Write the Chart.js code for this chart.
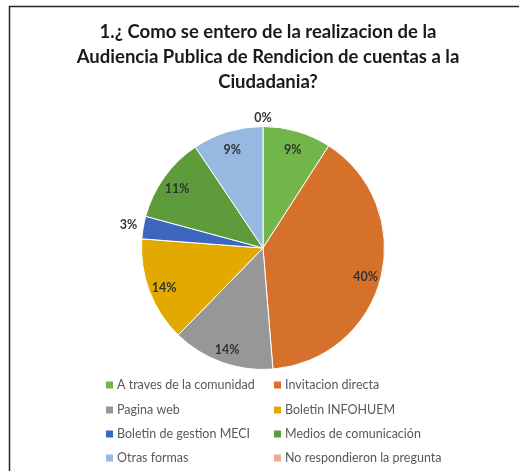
<!DOCTYPE html>
<html>
<head>
<meta charset="utf-8">
<script src="https://cdn.jsdelivr.net/npm/chart.js@4/dist/chart.umd.min.js"></script>
<style>
  html, body { margin: 0; padding: 0; background: #fff; }
  #wrap { width: 519px; height: 471px; position: relative; }
</style>
</head>
<body>
<div id="wrap"><canvas id="c" width="519" height="471"></canvas></div>
<script>
const titleLines = [
  "1.¿ Como se entero de la realizacion de la",
  "Audiencia Publica de Rendicion de cuentas a la",
  "Ciudadania?"
];
const categories = [
  "A traves de la comunidad",
  "Invitacion directa",
  "Pagina web",
  "Boletin INFOHUEM",
  "Boletin de gestion MECI",
  "Medios de comunicación",
  "Otras formas",
  "No respondieron la pregunta"
];
const values = [9.1, 39.6, 13.6, 13.9, 3.0, 11.4, 9.4, 0];
const colors = ["#72B548", "#D6712B", "#979797", "#E2AA00", "#3C67BE", "#5D9B3B", "#97B9E0", "#F0A88E"];

const FONT = "Lato, 'Open Sans', sans-serif";

const decorPlugin = {
  id: 'decor',
  beforeDraw(chart) {
    const ctx = chart.ctx;
    ctx.save();
    ctx.fillStyle = '#fff';
    ctx.fillRect(0, 0, chart.width, chart.height);
    ctx.strokeStyle = '#262626';
    ctx.lineWidth = 1.5;
    ctx.beginPath();
    ctx.moveTo(9.5, chart.height);
    ctx.lineTo(9.5, 6.5);
    ctx.lineTo(chart.width, 6.5);
    ctx.stroke();
    ctx.fillStyle = '#1a1a1a';
    ctx.font = "bold 18.5px " + FONT;
    ctx.textAlign = 'center';
    ctx.textBaseline = 'middle';
    const tys = [32, 57, 82];
    titleLines.forEach((t, i) => ctx.fillText(t, 268, tys[i]));
    ctx.restore();
  },
  afterDraw(chart) {
    const ctx = chart.ctx;
    ctx.save();
    const meta = chart.getDatasetMeta(0);
    const ds = chart.data.datasets[0].data;
    const total = ds.reduce((a, b) => a + b, 0);
    ctx.font = "bold 12.5px " + FONT;
    ctx.textAlign = 'center';
    ctx.textBaseline = 'middle';
    ctx.fillStyle = '#333';
    meta.data.forEach((arc, i) => {
      const p = arc.getProps(['x', 'y', 'startAngle', 'endAngle', 'outerRadius'], true);
      const mid = (p.startAngle + p.endAngle) / 2;
      const pct = ds[i] / total * 100;
      let r;
      if (pct < 1) r = p.outerRadius + 9;
      else if (pct < 5) r = p.outerRadius + 15;
      else r = p.outerRadius * 0.87;
      const x = p.x + Math.cos(mid) * r;
      const y = p.y + Math.sin(mid) * r + (pct >= 5 ? 3 : 0);
      ctx.fillText(Math.round(pct) + '%', x, y);
    });
    ctx.font = "12.5px " + FONT;
    ctx.textAlign = 'left';
    const colX = [106, 274];
    const rowY = [385, 410, 434, 458];
    chart.data.labels.forEach((lab, i) => {
      const cx = colX[i % 2];
      const cy = rowY[Math.floor(i / 2)];
      ctx.fillStyle = chart.data.datasets[0].backgroundColor[i];
      ctx.fillRect(cx, cy - 3.5, 7, 7);
      ctx.fillStyle = '#595959';
      ctx.fillText(lab, cx + 11, cy);
    });
    ctx.restore();
  }
};

new Chart(document.getElementById('c'), {
  type: 'pie',
  data: {
    labels: categories,
    datasets: [{
      data: values,
      backgroundColor: colors,
      borderColor: '#ffffff',
      borderWidth: 1
    }]
  },
  options: {
    responsive: false,
    animation: false,
    layout: { padding: { top: 126, bottom: 101, left: 141, right: 134 } },
    plugins: {
      legend: { display: false },
      title: { display: false },
      tooltip: { enabled: false }
    }
  },
  plugins: [decorPlugin]
});
</script>
</body>
</html>
